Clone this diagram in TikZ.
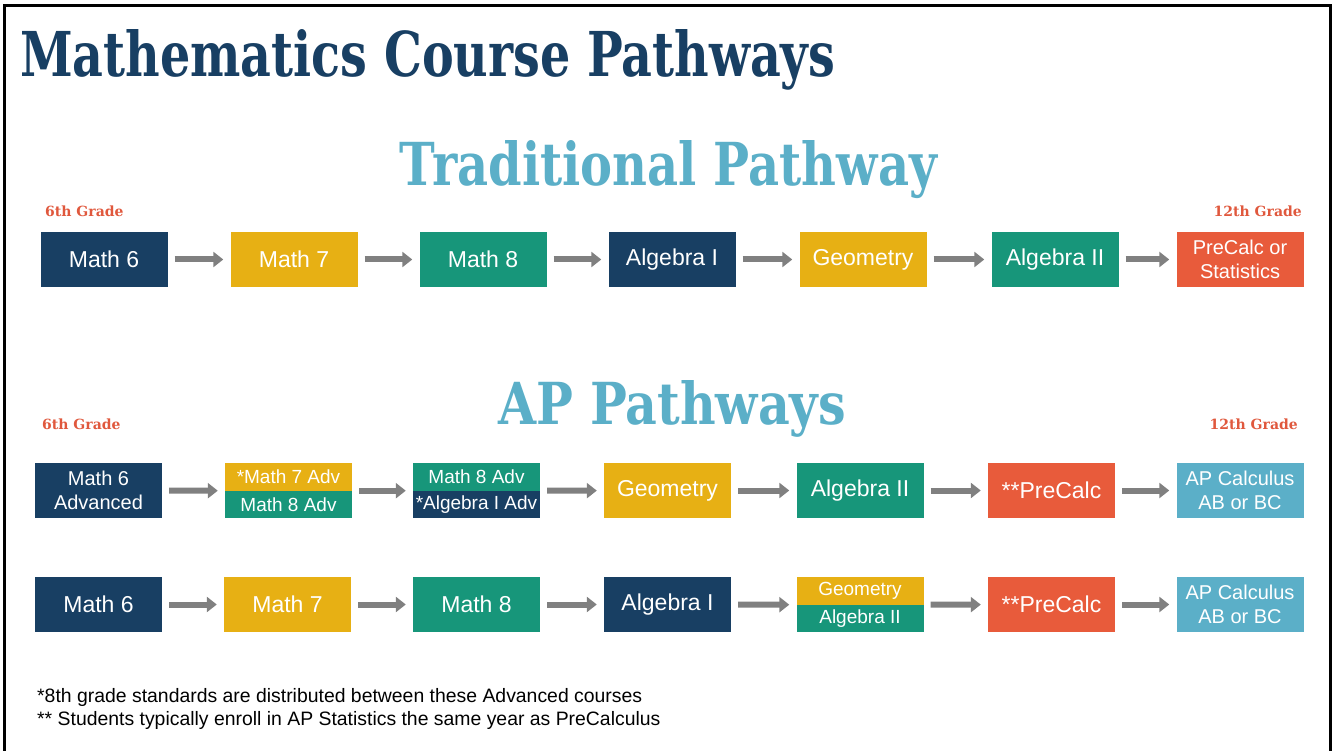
\documentclass[tikz,border=0pt]{standalone}
\usepackage{fontspec}
\setmainfont{Liberation Sans}
\newfontfamily\slabfont{DejaVu Serif}
\usetikzlibrary{arrows.meta}

\definecolor{navy}{HTML}{183F63}
\definecolor{gold}{HTML}{E7B014}
\definecolor{mathgreen}{HTML}{17967A}
\definecolor{coral}{HTML}{E85B3B}
\definecolor{sky}{HTML}{5BAFC8}
\definecolor{gradered}{HTML}{E0583D}
\definecolor{arrowgray}{HTML}{808080}

\tikzset{
  course/.style={fill=#1, text=white, minimum width=127pt, minimum height=55pt,
    inner sep=0pt, align=center, font=\fontsize{23}{27}\selectfont},
  course/.default=navy,
  twoline/.style={font=\fontsize{20}{24}\selectfont},
  half/.style={fill=#1, text=white, minimum width=127pt, minimum height=27.5pt,
    inner sep=0pt, font=\fontsize{19}{22}\selectfont},
  link/.style={draw=arrowgray, line width=6pt, -{Triangle[length=10pt,width=15pt]},
    shorten <=7pt, shorten >=7pt},
  grade/.style={text=gradered, inner sep=0pt, font=\slabfont\bfseries\fontsize{14}{16}\selectfont},
  heading/.style={inner sep=0pt, font=\slabfont\bfseries},
  note/.style={anchor=base west, inner sep=0pt, font=\fontsize{19.4}{23}\selectfont}
}

\begin{document}
\begin{tikzpicture}[x=1pt, y=-1pt]
  \useasboundingbox (0,0) rectangle (1336,751);
  \draw[line width=3pt] (4.5,5.5) rectangle (1330.5,760);

  \node[heading, text=navy, anchor=base west] (title) at (20,77)
    {\resizebox{815pt}{47pt}{Mathematics Course Pathways}};

  % traditional pathway
  \node[heading, text=sky, anchor=base] (trad) at (668.5,186)
    {\resizebox{537pt}{45pt}{Traditional Pathway}};
  \node[grade, anchor=west] (tlow) at (45,211) {6th Grade};
  \node[grade, anchor=east] (thigh) at (1302,211) {12th Grade};

  \node[course=navy] (t1) at (104,259.5) {Math 6};
  \node[course=gold] (t2) at (294,259.5) {Math 7};
  \node[course=mathgreen] (t3) at (483,259.5) {Math 8};
  \node[course=navy] (t4) at (672,259.5) {Algebra I};
  \node[course=gold] (t5) at (863,259.5) {Geometry};
  \node[course=mathgreen] (t6) at (1055,259.5) {Algebra II};
  \node[course=coral, twoline] (t7) at (1240,259.5) {PreCalc or\\Statistics};

  \foreach \i/\j in {1/2,2/3,3/4,4/5,5/6,6/7}
    \draw[link] (t\i) -- (t\j);

  % AP pathways
  \node[heading, text=sky, anchor=base] (ap) at (672,424)
    {\resizebox{348pt}{44pt}{AP Pathways}};
  \node[grade, anchor=west] (alow) at (42,424) {6th Grade};
  \node[grade, anchor=east] (ahigh) at (1298,424) {12th Grade};

  \node[course=navy, twoline] (a1) at (98.5,490.5) {Math 6\\Advanced};
  \node[half=gold] (a2top) at (288.5,476.75) {*Math 7 Adv};
  \node[half=mathgreen] (a2bot) at (288.5,504.25) {Math 8 Adv};
  \node[half=mathgreen] (a3top) at (476.5,476.75) {Math 8 Adv};
  \node[half=navy] (a3bot) at (476.5,504.25) {*Algebra I Adv};
  \node[course=gold] (a4) at (667.5,490.5) {Geometry};
  \node[course=mathgreen] (a5) at (860,490.5) {Algebra II};
  \node[course=coral] (a6) at (1051.5,490.5) {**PreCalc};
  \node[course=sky, twoline] (a7) at (1240,490.5) {AP Calculus\\AB or BC};

  \draw[link] (a1) -- (a2top.south west);
  \draw[link] (a2top.south east) -- (a3top.south west);
  \draw[link] (a3top.south east) -- (a4);
  \draw[link] (a4) -- (a5);
  \draw[link] (a5) -- (a6);
  \draw[link] (a6) -- (a7);

  \node[course=navy] (b1) at (98.5,604.5) {Math 6};
  \node[course=gold] (b2) at (287.5,604.5) {Math 7};
  \node[course=mathgreen] (b3) at (476.5,604.5) {Math 8};
  \node[course=navy] (b4) at (667.5,604.5) {Algebra I};
  \node[half=gold] (b5top) at (860,590.75) {Geometry};
  \node[half=mathgreen] (b5bot) at (860,618.25) {Algebra II};
  \node[course=coral] (b6) at (1051.5,604.5) {**PreCalc};
  \node[course=sky, twoline] (b7) at (1240,604.5) {AP Calculus\\AB or BC};

  \draw[link] (b1) -- (b2);
  \draw[link] (b2) -- (b3);
  \draw[link] (b3) -- (b4);
  \draw[link] (b4) -- (b5top.south west);
  \draw[link] (b5top.south east) -- (b6);
  \draw[link] (b6) -- (b7);

  % footnotes
  \node[note] (note1) at (37,702) {*8th grade standards are distributed between these Advanced courses};
  \node[note] (note2) at (37,725) {** Students typically enroll in AP Statistics the same year as PreCalculus};
\end{tikzpicture}
\end{document}
